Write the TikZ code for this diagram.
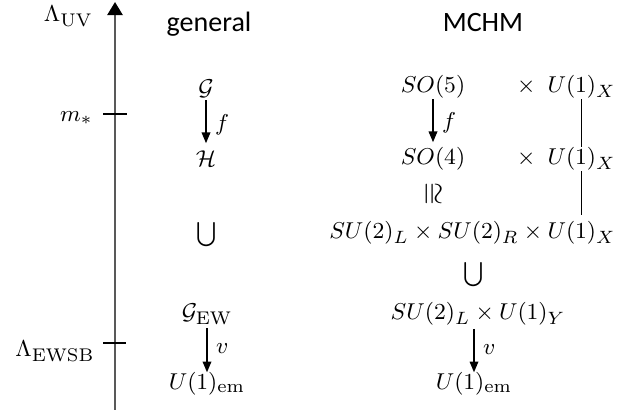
\documentclass[tikz,border=0pt]{standalone}
\usepackage{amsmath, amssymb}
\usepackage{fontspec}
\usepackage{tikz}
\usetikzlibrary{arrows.meta}
\newfontfamily\headfont{Carlito}
\DeclareMathSizes{9.5}{9.5}{7.2}{5.5}
\definecolor{cAxis}{RGB}{89,89,89}

\begin{document}
\begin{tikzpicture}[x=0.01379cm,y=-0.01379cm,font=\fontsize{9.5}{11}\selectfont,
  lbl/.style={inner sep=0pt},
  head/.style={inner sep=0pt,font=\fontsize{11}{13}\headfont},
  map/.style={-{Triangle[width=3.4pt,length=4.2pt]},line width=0.5pt},
  link/.style={line width=0.5pt}]
\useasboundingbox (0,0) rectangle (619,412);
\coordinate (axbot) at (115,410);
\coordinate (axtop) at (115,2);
\draw[cAxis,line width=1pt,-{Triangle[width=6pt,length=5.2pt,color=black]}] (axbot) -- (axtop);
\draw[line width=0.5pt] (103,114) -- (127,114);
\draw[line width=0.5pt] (103,343) -- (126,343);
\node[lbl,anchor=base east] (uvlab) at (93,22) {$\Lambda_{\mathrm{UV}}$};
\node[lbl,anchor=base east] (mlab) at (93,122) {$m_*$};
\node[lbl,anchor=base east] (ewsblab) at (95,357) {$\Lambda_{\mathrm{EWSB}}$};
\node[head,anchor=base] (gen) at (209,32) {general};
\node[head,anchor=base] (mchm) at (483,32) {MCHM};
\node[lbl,anchor=base] (G) at (206,96) {$\mathcal{G}$};
\node[lbl,anchor=base] (H) at (206,167) {$\mathcal{H}$};
\node[lbl,anchor=base] (cupA) at (207,240) {$\bigcup$};
\node[lbl,anchor=base] (GEW) at (207,320) {$\mathcal{G}_{\mathrm{EW}}$};
\node[lbl,anchor=base] (Uem) at (207,390) {$U(1)_{\mathrm{em}}$};
\draw[map,shorten <=0.6pt,shorten >=3pt] (G) -- (H) node[midway,right]{$f$};
\draw[map,shorten <=1pt] (GEW) -- (Uem) node[midway,right]{$v$};
\node[lbl,anchor=base] (SOfive) at (433,93) {$SO(5)$};
\node[lbl,anchor=base] (SOfour) at (433,165) {$SO(4)$};
\node[lbl,rotate=-90,scale=1.25] (iso) at (432,194) {$\cong$};
\node[lbl,anchor=base east] (su) at (616,239) {$SU(2)_L\times SU(2)_R\times U(1)_X$};
\node[lbl,anchor=base east] (uxA) at (616,93) {$U(1)_X$};
\node[lbl,anchor=base east] (uxB) at (616,165) {$U(1)_X$};
\node[lbl,anchor=base east] (tA) at ([xshift=-4.3pt]uxA.base west) {$\times$};
\node[lbl,anchor=base east] (tB) at ([xshift=-4.3pt]uxB.base west) {$\times$};
\node[lbl,anchor=base] (cupB) at (474,280) {$\bigcup$};
\node[lbl,anchor=base] (suy) at (478,320) {$SU(2)_L\times U(1)_Y$};
\node[lbl,anchor=base] (Uem2) at (474,390) {$U(1)_{\mathrm{em}}$};
\draw[map,shorten >=2pt] (SOfive) -- (SOfour) node[midway,right]{$f$};
\draw[link] (uxA) -- (uxB);
\draw[link,shorten >=2.5pt] (uxB) -- (uxB |- su.north);
\draw[map,shorten <=1pt] (suy.south -| Uem2) -- (Uem2) node[midway,right]{$v$};
\end{tikzpicture}
\end{document}
